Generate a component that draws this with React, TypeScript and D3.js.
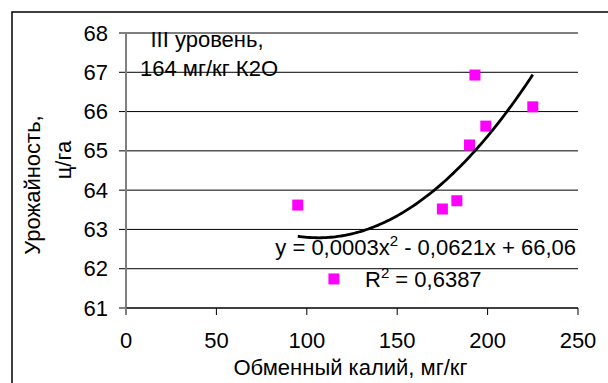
import React from "react";
import * as d3 from "d3";

const potassium = [95, 115, 175, 183, 190, 193, 199, 225];
const yieldVals = [63.62, 61.74, 63.52, 63.73, 65.15, 66.93, 65.63, 66.12];
const xTicks = [0, 50, 100, 150, 200, 250];
const yTicks = [61, 62, 63, 64, 65, 66, 67, 68];
const xTitle = "Обменный калий, мг/кг";
const yTitle1 = "Урожайность,";
const yTitle2 = "ц/га";
const note1 = "III уровень,";
const note2 = "164 мг/кг К2О";

function fitQuadratic(xs: number[], ys: number[]) {
  // least squares y = a x^2 + b x + c
  let s0 = xs.length, s1 = 0, s2 = 0, s3 = 0, s4 = 0, t0 = 0, t1 = 0, t2 = 0;
  xs.forEach((x, i) => {
    const y = ys[i];
    s1 += x; s2 += x * x; s3 += x ** 3; s4 += x ** 4;
    t0 += y; t1 += x * y; t2 += x * x * y;
  });
  const M = [
    [s4, s3, s2, t2],
    [s3, s2, s1, t1],
    [s2, s1, s0, t0],
  ];
  for (let i = 0; i < 3; i++) {
    for (let k = i + 1; k < 3; k++) {
      const f = M[k][i] / M[i][i];
      for (let j = i; j < 4; j++) M[k][j] -= f * M[i][j];
    }
  }
  const r = [0, 0, 0];
  for (let i = 2; i >= 0; i--) {
    let s = M[i][3];
    for (let j = i + 1; j < 3; j++) s -= M[i][j] * r[j];
    r[i] = s / M[i][i];
  }
  return r;
}

export default function App() {
  const W = 608, H = 383;
  const x = d3.scaleLinear().domain([0, 250]).range([126, 578]);
  const y = d3.scaleLinear().domain([61, 68]).range([308, 33]);
  const [a, b, c] = fitQuadratic(potassium, yieldVals);
  const xmin = d3.min(potassium)!, xmax = d3.max(potassium)!;
  const samples = d3.range(0, 101).map((i) => xmin + ((xmax - xmin) * i) / 100);
  const line = d3
    .line<number>()
    .x((d) => x(d))
    .y((d) => y(a * d * d + b * d + c));
  const font = "'Liberation Sans', Arial, sans-serif";
  const fs = 22;
  return (
    <svg
      width={W}
      height={H}
      style={{ position: "absolute", left: 0, top: 0, background: "#fff" }}
      fontFamily={font}
    >
      <rect x={12} y={12} width={W} height={H} fill="#fff" stroke="#000" strokeWidth={1.5} />
      {yTicks.map((t) => (
        <g key={t}>
          <line x1={119} x2={578} y1={y(t)} y2={y(t)} stroke="#000" strokeWidth={1} />
          <text x={108} y={y(t) + 7.5} fontSize={fs} textAnchor="end" fill="#000">
            {t}
          </text>
        </g>
      ))}
      <line x1={x(0)} x2={x(0)} y1={y(68)} y2={y(61) + 6} stroke="#808080" strokeWidth={2} />
      <line x1={x(0)} x2={578} y1={y(61)} y2={y(61)} stroke="#000" strokeWidth={1} />
      {xTicks.map((t) => (
        <g key={t}>
          <line x1={x(t)} x2={x(t)} y1={y(61)} y2={y(61) + 7} stroke={t === 0 ? "#808080" : "#000"} strokeWidth={t === 0 ? 2 : 1} />
          <text x={x(t)} y={348} fontSize={fs} textAnchor="middle" fill="#000">
            {t}
          </text>
        </g>
      ))}
      <text x={350.5} y={375} fontSize={fs} textAnchor="middle" fill="#000">
        {xTitle}
      </text>
      <text transform={`translate(40,185) rotate(-90)`} fontSize={fs} textAnchor="middle" fill="#000">
        {yTitle1}
      </text>
      <text transform={`translate(71,160) rotate(-90)`} fontSize={fs} textAnchor="middle" fill="#000">
        {yTitle2}
      </text>
      <text x={207} y={47} fontSize={fs} textAnchor="middle" fill="#000">
        {note1}
      </text>
      <text x={209} y={76} fontSize={fs} textAnchor="middle" fill="#000">
        {note2}
      </text>
      {potassium.map((p, i) => (
        <rect
          key={i}
          x={x(p) - 5.5}
          y={y(yieldVals[i]) - 5.5}
          width={11}
          height={11}
          fill="#FF00FF"
        />
      ))}
      <path d={line(samples) || ""} fill="none" stroke="#000" strokeWidth={2.8} />
      <text x={576} y={255} fontSize={fs} textAnchor="end" fill="#000">
        {"y = 0,0003x"}
        <tspan dy={-9} fontSize={15}>2</tspan>
        <tspan dy={9}>{" - 0,0621x + 66,06"}</tspan>
      </text>
      <text x={365} y={287} fontSize={fs} fill="#000">
        {"R"}
        <tspan dy={-9} fontSize={15}>2</tspan>
        <tspan dy={9}>{" = 0,6387"}</tspan>
      </text>
    </svg>
  );
}
